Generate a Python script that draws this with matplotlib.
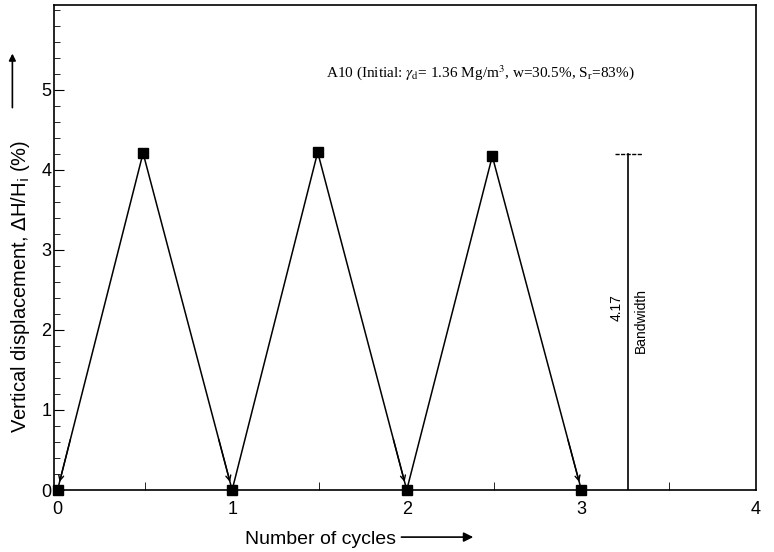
import matplotlib
matplotlib.use("Agg")
import matplotlib.pyplot as plt
from matplotlib.ticker import MultipleLocator

# Data
cycles = [0.0, 0.49, 1.0, 1.49, 2.0, 2.49, 3.0]
displacement = [0.0, 4.21, 0.0, 4.22, 0.0, 4.17, 0.0]
bandwidth_x = 3.27
bandwidth_value = 4.17
bandwidth_top = 4.2
x_ticks = [0, 1, 2, 3, 4]
y_ticks = [0, 1, 2, 3, 4, 5]

plt.rcParams['font.family'] = ['Liberation Sans', 'DejaVu Sans']

fig = plt.figure(figsize=(7.74, 5.52), dpi=100)
ax = fig.add_axes([0.0698, 0.1123, 0.9069, 0.8787])

ax.plot(cycles, displacement, color='black', lw=1.1, zorder=2)
ax.plot(cycles, displacement, 's', color='black', ms=7, zorder=3, clip_on=False)

# arrowheads at the minima
for i in range(1, len(cycles)):
    if displacement[i] < displacement[i - 1] or i == 1:
        if displacement[i] < displacement[i - 1]:
            x0, y0 = cycles[i - 1], displacement[i - 1]
            x1, y1 = cycles[i], displacement[i]
        else:
            x0, y0 = cycles[i], displacement[i]
            x1, y1 = cycles[i - 1], displacement[i - 1]
        t = 0.15
        xs = x1 + (x0 - x1) * t
        ys = y1 + (y0 - y1) * t
        ax.annotate('', xy=(x1, y1), xytext=(xs, ys),
                    arrowprops=dict(arrowstyle='->', color='black', lw=1.0,
                                    mutation_scale=9, shrinkA=0, shrinkB=6))

# bandwidth bar
ax.plot([bandwidth_x, bandwidth_x], [0, bandwidth_top], color='black', lw=1.2)
ax.plot([bandwidth_x - 0.08, bandwidth_x + 0.08], [bandwidth_top, bandwidth_top],
        color='black', lw=1.0, ls=(0, (3, 1)))
ax.text(bandwidth_x - 0.03, 2.28, f'{bandwidth_value:.2f}', rotation=90,
        ha='right', va='center', fontsize=10)
ax.text(bandwidth_x + 0.03, 2.12, 'Bandwidth', rotation=90,
        ha='left', va='center', fontsize=10)

ax.text(2.42, 5.22,
        r'A10 (Initial: $\gamma_{\rm d}$= 1.36 Mg/m$^3$, w=30.5%, S$_{\rm r}$=83%)',
        ha='center', va='center', fontsize=11, family='Liberation Serif',
        math_fontfamily='stix')

ax.set_xlim(-0.02, 4.0)
ax.set_ylim(0, 6.06)
ax.set_xticks(x_ticks)
ax.set_yticks(y_ticks)
ax.xaxis.set_minor_locator(MultipleLocator(0.5))
ax.yaxis.set_minor_locator(MultipleLocator(0.2))
ax.tick_params(axis='both', which='both', direction='in', top=False, right=False,
               labelsize=13)
ax.tick_params(axis='y', which='major', length=7, pad=2)
ax.tick_params(axis='y', which='minor', length=4)
ax.tick_params(axis='x', which='major', length=0, pad=8)
ax.tick_params(axis='x', which='minor', length=6)
for s in ax.spines.values():
    s.set_linewidth(1.2)

ax.set_xlabel('Number of cycles', fontsize=14, labelpad=6)
ax.xaxis.set_label_coords(0.38, -0.085)
fig.text(21 / 774, 1 - 286 / 552,
         r'Vertical displacement, $\Delta$H/H$_{\rm i}$ (%)',
         rotation=90, ha='center', va='center', fontsize=14.5)

# axis arrows
ax.annotate('', xy=(0.016, 0.908), xytext=(0.016, 0.80), xycoords='figure fraction',
            textcoords='figure fraction', annotation_clip=False,
            arrowprops=dict(arrowstyle='-|>', color='black', lw=1.2, mutation_scale=10))
ax.annotate('', xy=(0.615, 0.027), xytext=(0.515, 0.027), xycoords='figure fraction',
            textcoords='figure fraction', annotation_clip=False,
            arrowprops=dict(arrowstyle='-|>', color='black', lw=1.2, mutation_scale=14))

fig.savefig('out.png', dpi=100)
